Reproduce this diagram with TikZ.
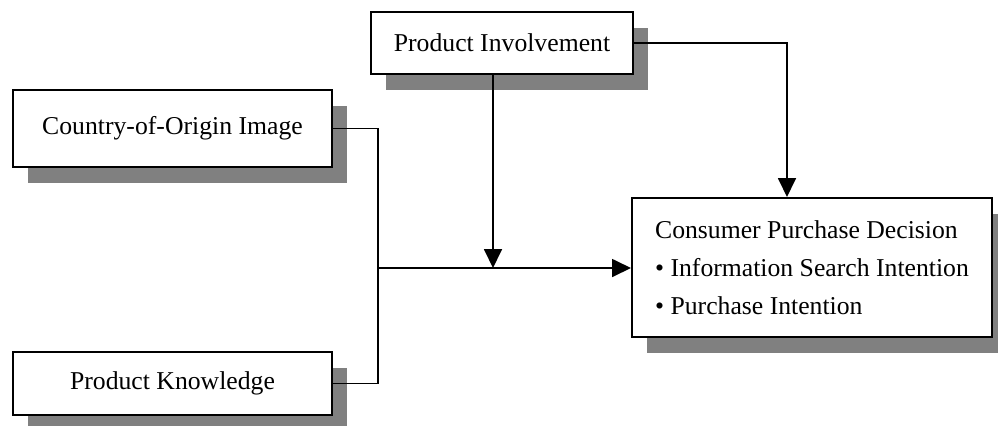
\documentclass[tikz,border=0pt]{standalone}
\usepackage{fontspec}
\setmainfont{Liberation Serif}
\usetikzlibrary{shadows,arrows.meta,calc}
\tikzset{
	box/.style={draw,line width=1pt,fill=white,inner sep=0pt,
		drop shadow={shadow xshift=7.5pt,shadow yshift=-8pt,fill=black!50,opacity=1}},
	link/.style={line width=0.9pt},
	head/.style={-{Triangle[length=9.5pt,width=9pt]}}
}
\begin{document}
\begin{tikzpicture}[x=0.5pt,y=-0.5pt,font=\fontsize{12.85}{19}\selectfont]
	\useasboundingbox (0,0) rectangle (998,425);
	% boxes
	\node[box,minimum width=131pt,minimum height=31pt] (inv) at (502,43) {Product Involvement};
	\node[box,minimum width=159.5pt,minimum height=38.5pt] (coo) at (172.5,128.5) {Country-of-Origin Image};
	\node[box,minimum width=159.5pt,minimum height=31.5pt] (know) at (172.5,383.5) {Product Knowledge};
	\node[box,minimum width=180pt,minimum height=69.5pt,align=left] (cpd) at (812,267.5)
		{Consumer Purchase Decision\\\textbullet{} Information Search Intention\\\textbullet{} Purchase Intention};
	% points on the lines
	\coordinate (join) at (378,268);
	\coordinate (mod) at (493,268);
	\coordinate (drop) at ($(cpd.north)+(-25,0)$);
	% connectors
	\draw[link] (coo.east) -| (join) |- (know.east);
	\draw[link,head] (join) -- (join -| cpd.west);
	\draw[link,head] (inv.south -| mod) -- (mod);
	\draw[link,head] (inv.east) -| (drop);
\end{tikzpicture}
\end{document}
